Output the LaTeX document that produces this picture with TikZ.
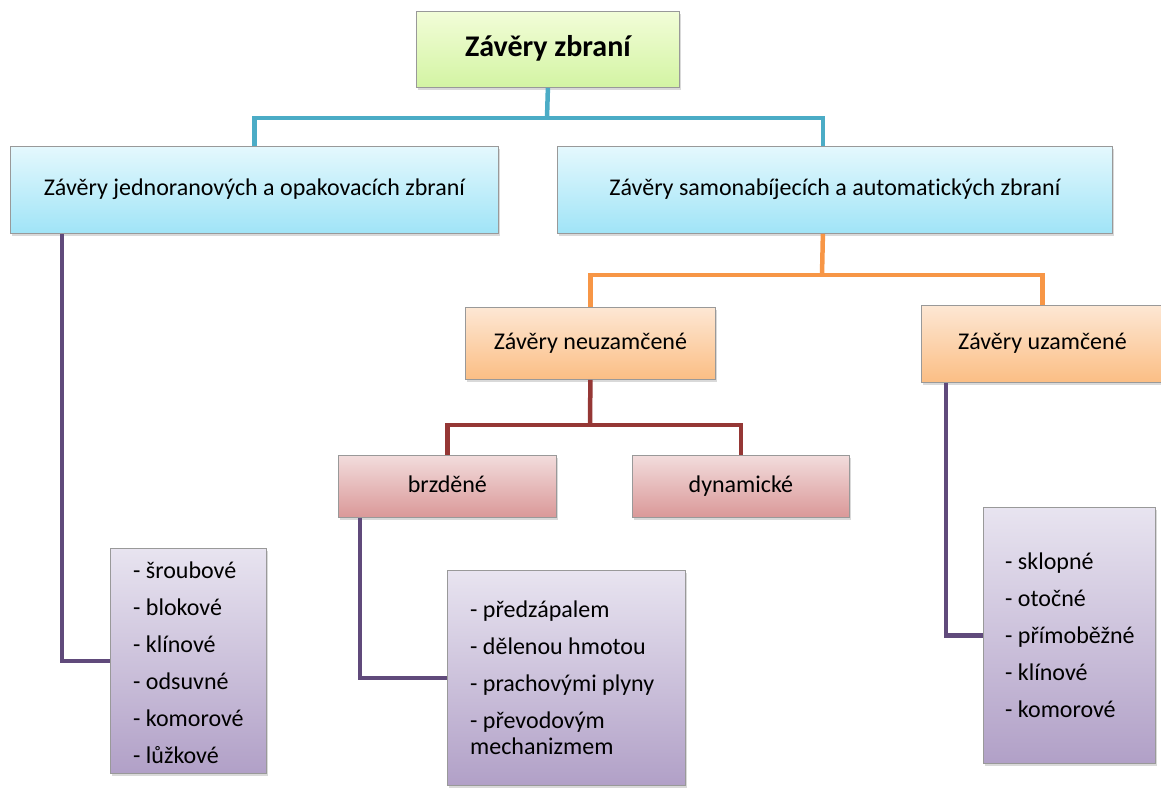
\documentclass[tikz,border=0pt]{standalone}
\usepackage{fontspec}
\setmainfont{Carlito}[Ligatures=NoCommon]
\usetikzlibrary{shadows,calc}
\definecolor{gTop}{HTML}{F2FDD8}
\definecolor{gBot}{HTML}{D3F4A3}
\definecolor{bTop}{HTML}{E4F8FD}
\definecolor{bBot}{HTML}{A0E4F7}
\definecolor{oTop}{HTML}{FDE7D4}
\definecolor{oBot}{HTML}{FBBE84}
\definecolor{rTop}{HTML}{F2DCDC}
\definecolor{rBot}{HTML}{DA9898}
\definecolor{pTop}{HTML}{E8E4F0}
\definecolor{pBot}{HTML}{B1A0C7}
\definecolor{cBlue}{HTML}{4BACC6}
\definecolor{cOrange}{HTML}{F79646}
\definecolor{cRed}{HTML}{953735}
\definecolor{cPurple}{HTML}{604A7B}
\begin{document}
\begin{tikzpicture}[x=1pt,y=-1pt,
  box/.style={draw=black!40, line width=0.8pt, anchor=north west, inner sep=0pt,
    drop shadow={shadow xshift=2pt,shadow yshift=-3pt,opacity=0.3},
    font=\fontsize{24}{26}\selectfont, text=black, text height=17pt, text depth=5pt},
  greenbox/.style={box, top color=gTop, bottom color=gBot},
  bluebox/.style={box, top color=bTop, bottom color=bBot},
  orangebox/.style={box, top color=oTop, bottom color=oBot},
  redbox/.style={box, top color=rTop, bottom color=rBot},
  listbox/.style={box, top color=pTop, bottom color=pBot},
  listtext/.style={anchor=west, align=left, inner sep=0pt,
    font=\fontsize{24}{26}\selectfont, text=black},
  conn/.style={line width=4.5pt},
  bconn/.style={conn, draw=cBlue},
  oconn/.style={conn, draw=cOrange},
  rconn/.style={conn, draw=cRed},
  pconn/.style={conn, draw=cPurple},
]
\useasboundingbox (0,0) rectangle (1161,787);

\coordinate (jb) at (547,118);
\coordinate (jo) at (822,275);
\coordinate (jr) at (590,425);

% nodes
\node[greenbox, minimum width=263pt, minimum height=76pt, font=\fontsize{30}{34}\selectfont\bfseries, text height=21pt, text depth=7pt] (top) at (416,11) {Závěry zbraní};
\node[bluebox, minimum width=488pt, minimum height=87pt] (jedn) at (10,146) {Závěry jednoranových a opakovacích zbraní};
\node[bluebox, minimum width=555pt, minimum height=87pt] (samo) at (557,146) {Závěry samonabíjecích a automat\kern0pt ických zbraní};
\node[orangebox, minimum width=250pt, minimum height=72pt] (neuz) at (465,307) {Závěry neuzamčené};
\node[orangebox, minimum width=242pt, minimum height=77pt] (uzam) at (921,305) {Závěry uzamčené};
\node[redbox, minimum width=218pt, minimum height=62pt] (brzd) at (338,455) {brzděné};
\node[redbox, minimum width=217pt, minimum height=62pt] (dyna) at (632,455) {dynamické};
\node[listbox, minimum width=156pt, minimum height=225pt] (list1) at (110,548) {};
\node[listbox, minimum width=238pt, minimum height=215pt] (list2) at (447,570) {};
\node[listbox, minimum width=172pt, minimum height=256pt] (list3) at (983,507) {};
\node[listtext] (list1t) at ($(list1.west)+(23,2)$)
  {- šroubové\\[11pt]- blokové\\[11pt]- klínové\\[11pt]- odsuvné\\[11pt]- komorové\\[11pt]- lůžkové};
\node[listtext] (list2t) at ($(list2.west)+(23,0)$)
  {- předzápalem\\[11pt]- dělenou hmotou\\[11pt]- prachovými plyny\\[11pt]- převodovým\\mechanizmem};
\node[listtext] (list3t) at ($(list3.west)+(22,0)$)
  {- sklopné\\[11pt]- otočné\\[11pt]- přímoběžné\\[11pt]- klínové\\[11pt]- komorové};

% blue
\draw[bconn] (top.south) -- (jb);
\draw[bconn] (jb) -| (jedn.north);
\draw[bconn] (jb) -| ($(samo.north)+(-12,0)$);
% orange
\draw[oconn] ($(samo.south)+(-12,0)$) -- (jo);
\draw[oconn] (jo) -| (neuz.north);
\draw[oconn] (jo) -| (uzam.north);
% red
\draw[rconn] (neuz.south) -- (jr);
\draw[rconn] (jr) -| (brzd.north);
\draw[rconn] (jr) -| (dyna.north);
% purple
\draw[pconn] ($(jedn.south west)+(52,0)$) |- (list1.west);
\draw[pconn] ($(brzd.south west)+(22,0)$) |- (list2.west);
\draw[pconn] ($(uzam.south west)+(25,0)$) |- (list3.west);
\end{tikzpicture}
\end{document}
